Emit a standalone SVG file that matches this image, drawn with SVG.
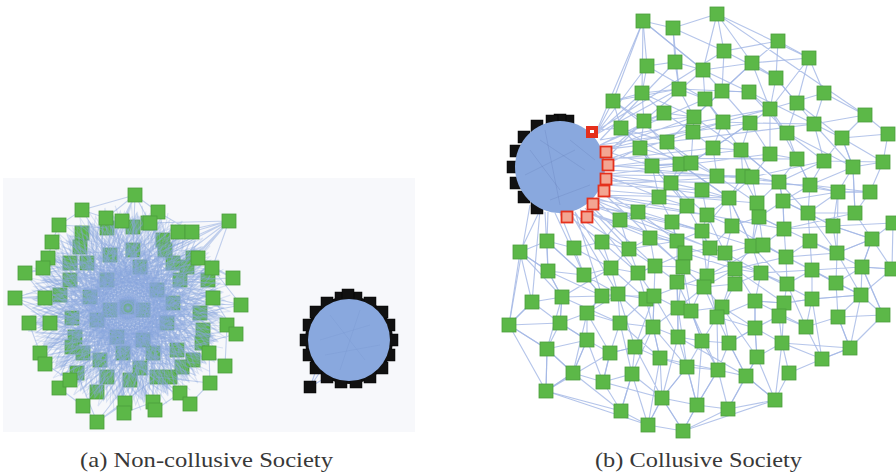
<svg xmlns="http://www.w3.org/2000/svg" xmlns:xlink="http://www.w3.org/1999/xlink" width="896" height="473" viewBox="0 0 896 473">
<style>
.gs{fill:#5cb848;stroke:#4c9f3c;stroke-width:0.8}
.bs{fill:#111;stroke:#000;stroke-width:0.5}
.rs{fill:#f3a592;stroke:#e5301c;stroke-width:1.8}
.ea{fill:none;stroke:#8aa5de;stroke-width:1.1;stroke-opacity:0.27}
.eo{fill:none;stroke:#8aa5de;stroke-width:1.1;stroke-opacity:0.5}
.eb{fill:none;stroke:#a2b7e5;stroke-width:1.15;stroke-opacity:0.8}
.blob{fill:#89a8de}
.cap{font-family:"Liberation Serif","Times New Roman",serif;font-size:22px;fill:#383838}
</style>
<defs>
<rect id="gsq" class="gs" x="-7" y="-7" width="14" height="14"/>
<rect id="bsq" class="bs" x="-6" y="-6" width="12" height="12"/>
<rect id="rsq" class="rs" x="-5.5" y="-5.5" width="11" height="11"/>
<path id="meshA" d="M90,5 L-60,40 L30,-85 L-10,70 L-88,-20 L70,-50 L5,10 L-40,-80 L85,35 L-80,55 L20,-40 L40,88 L-70,-55 L60,60 L-20,-30 L92,-25 L-45,85 L10,-92 L-92,15 L50,-20 L-30,50 L75,-70 L-55,-10 L25,55 L-15,-88 L78,55 L-62,-68 L0,95 L35,-15 L-95,-40"/>
</defs>
<rect x="3" y="178" width="412" height="254" fill="#f7f8fb"/>

<g id="panel-a-inner-nodes">
<use id="ai1" href="#gsq" x="82" y="233"/><use id="ai2" href="#gsq" x="80" y="247"/><use id="ai3" href="#gsq" x="107" y="228"/><use id="ai4" href="#gsq" x="133" y="227"/><use id="ai5" href="#gsq" x="148" y="223"/><use id="ai6" href="#gsq" x="163" y="240"/><use id="ai7" href="#gsq" x="165" y="250"/><use id="ai8" href="#gsq" x="193" y="258"/><use id="ai9" href="#gsq" x="208" y="280"/><use id="ai10" href="#gsq" x="70" y="263"/><use id="ai11" href="#gsq" x="70" y="280"/><use id="ai12" href="#gsq" x="60" y="295"/><use id="ai13" href="#gsq" x="72" y="318"/><use id="ai14" href="#gsq" x="75" y="337"/><use id="ai15" href="#gsq" x="72" y="347"/><use id="ai16" href="#gsq" x="100" y="360"/><use id="ai17" href="#gsq" x="107" y="377"/><use id="ai18" href="#gsq" x="77" y="373"/><use id="ai19" href="#gsq" x="130" y="380"/><use id="ai20" href="#gsq" x="140" y="368"/><use id="ai21" href="#gsq" x="157" y="377"/><use id="ai22" href="#gsq" x="170" y="377"/><use id="ai23" href="#gsq" x="182" y="367"/><use id="ai24" href="#gsq" x="193" y="360"/><use id="ai25" href="#gsq" x="202" y="343"/><use id="ai26" href="#gsq" x="203" y="330"/><use id="ai27" href="#gsq" x="200" y="313"/><use id="ai28" href="#gsq" x="110" y="255"/><use id="ai29" href="#gsq" x="133" y="250"/><use id="ai30" href="#gsq" x="140" y="267"/><use id="ai31" href="#gsq" x="107" y="280"/><use id="ai32" href="#gsq" x="90" y="297"/><use id="ai33" href="#gsq" x="97" y="320"/><use id="ai34" href="#gsq" x="117" y="337"/><use id="ai35" href="#gsq" x="143" y="340"/><use id="ai36" href="#gsq" x="167" y="323"/><use id="ai37" href="#gsq" x="173" y="303"/><use id="ai38" href="#gsq" x="157" y="290"/><use id="ai39" href="#gsq" x="127" y="307"/><use id="ai40" href="#gsq" x="143" y="310"/><use id="ai41" href="#gsq" x="110" y="310"/><use id="ai42" href="#gsq" x="87" y="263"/><use id="ai43" href="#gsq" x="180" y="280"/><use id="ai44" href="#gsq" x="187" y="267"/><use id="ai45" href="#gsq" x="173" y="263"/><use id="ai46" href="#gsq" x="123" y="353"/><use id="ai47" href="#gsq" x="153" y="353"/><use id="ai48" href="#gsq" x="177" y="350"/><use id="ai49" href="#gsq" x="83" y="353"/><use id="ai50" href="#gsq" x="97" y="392"/>
</g>

<g id="connectors">
<g id="edges-a">
<use href="#meshA" class="ea" transform="translate(128,308)"/>
<use href="#meshA" class="ea" transform="translate(128,308) rotate(15)"/>
<use href="#meshA" class="ea" transform="translate(128,308) rotate(30)"/>
<use href="#meshA" class="ea" transform="translate(128,308) rotate(45)"/>
<use href="#meshA" class="ea" transform="translate(128,308) rotate(60)"/>
<use href="#meshA" class="ea" transform="translate(128,308) rotate(75)"/>
<use href="#meshA" class="ea" transform="translate(128,308) rotate(90)"/>
<use href="#meshA" class="ea" transform="translate(128,308) rotate(105)"/>
<use href="#meshA" class="ea" transform="translate(128,308) rotate(120)"/>
<use href="#meshA" class="ea" transform="translate(128,308) rotate(135)"/>
<use href="#meshA" class="ea" transform="translate(128,308) rotate(150)"/>
<use href="#meshA" class="ea" transform="translate(128,308) rotate(165)"/>
<use href="#meshA" class="ea" transform="translate(128,308) rotate(180)"/>
<use href="#meshA" class="ea" transform="translate(128,308) rotate(195)"/>
<use href="#meshA" class="ea" transform="translate(128,308) rotate(210)"/>
<use href="#meshA" class="ea" transform="translate(128,308) rotate(225)"/>
<use href="#meshA" class="ea" transform="translate(128,308) rotate(240)"/>
<use href="#meshA" class="ea" transform="translate(128,308) rotate(255)"/>
<use href="#meshA" class="ea" transform="translate(128,308) rotate(270)"/>
<use href="#meshA" class="ea" transform="translate(128,308) rotate(285)"/>
<use href="#meshA" class="ea" transform="translate(128,308) rotate(300)"/>
<use href="#meshA" class="ea" transform="translate(128,308) rotate(315)"/>
<use href="#meshA" class="ea" transform="translate(128,308) rotate(330)"/>
<use href="#meshA" class="ea" transform="translate(128,308) rotate(345)"/>
<path class="eo" d="M135,195 L158,212 L192,232 L229,221 L198,258 L233,278 L212,268 L241,305 L213,298 L236,334 L227,325 L225,366 L209,353 L210,383 L190,404 L180,393 L155,410 L153,402 L124,413 L125,403 L97,422 L83,406 L59,388 L70,380 L45,364 L40,353 L29,323 L50,323 L15,298 L45,298 L25,273 L43,268 L48,258 L52,242 L59,225 L82,210 L106,218 L135,195 M229,221 L180,232 L229,221 L165,250 M229,221 L193,258 M229,221 L173,263 M229,221 L208,280 M229,221 L140,267 M229,221 L150,223 M229,221 L187,267 M135,195 L106,218 M135,195 L122,221 M135,195 L150,223 M135,195 L82,210 M135,195 L133,250 M135,195 L110,255 M15,298 L70,280 M15,298 L60,295 M15,298 L72,318 M25,273 L87,263 M241,305 L173,303 M241,305 L200,313 M97,422 L130,380 M97,422 L157,377 M97,422 L77,373 M83,406 L107,377 M190,404 L140,368 M210,383 L157,377 M233,278 L180,280 M236,334 L177,350 M59,225 L107,228 M82,210 L110,255"/>
</g>
<g id="edges-a-blob">
<path class="eb" d="M310,387 L320,372 M310,387 L330,375 M310,387 L318,365"/>
</g>
<g id="edges-b">
<path class="eb" d="M643,21 L673,28 L717,14 L724,51 L778,41 L809,58 L824,93 L865,115 L888,134 M643,21 L647,66 L642,93 L613,101 L621,128 L640,148 M673,28 L675,62 L703,70 L752,63 L776,78 L797,103 L814,124 L842,138 L853,167 M647,66 L675,62 L679,89 M703,70 L722,91 L749,92 L770,109 L787,133 L824,161 L883,162 M642,93 L679,89 L705,99 L723,122 L750,123 L770,154 L797,159 L810,185 L838,192 L870,192 M613,101 L644,121 L664,113 L694,117 L693,132 L713,148 L741,150 L752,177 L779,182 L783,201 L808,213 L855,213 M621,128 L667,142 L691,163 L717,176 L743,176 L757,203 L759,217 L784,229 L833,226 L893,223 M640,148 L652,166 L680,164 L671,183 L702,190 L729,198 L707,215 L732,226 M659,197 L687,206 L672,222 L702,231 L710,248 L725,253 L752,246 L763,245 L786,257 L810,241 L837,253 L872,239 M638,212 L620,220 L602,242 L629,249 L650,238 L677,241 L685,253 M520,252 L547,241 L574,248 L602,242 M520,252 L548,271 L584,275 L611,268 L638,273 L655,266 L683,267 L707,276 L735,269 L761,273 L787,284 L812,270 L836,283 L862,267 L892,269 M677,282 L704,287 L735,284 M532,302 L562,297 L602,296 L618,294 L646,299 L654,296 L678,308 L691,311 L722,307 L717,317 L755,301 L784,303 L812,299 L861,295 M509,325 L560,323 L587,313 L620,323 L653,327 L678,337 L702,341 L729,343 L755,328 L779,316 L806,327 L838,317 L883,315 M547,349 L587,340 L610,353 L635,347 L660,358 L687,367 L718,370 L746,376 L757,357 L782,343 L822,359 L850,348 M573,373 L603,382 L632,374 L662,398 L697,405 L728,409 L775,400 L789,373 M546,391 L621,411 L648,425 L683,431 L728,409 M509,325 L546,391 L621,411"/>
<path class="eb" d="M643,21 L642,93 L644,121 L640,148 L652,166 L659,197 L638,212 L620,220 M673,28 L679,89 L694,117 L693,132 L691,163 L671,183 L687,206 L672,222 L677,241 L683,267 L678,308 L678,337 L687,367 L662,398 L648,425 M717,14 L703,70 L705,99 L723,122 L713,148 L717,176 L702,190 L707,215 L702,231 L707,276 L691,311 L702,341 L718,370 L697,405 L683,431 M724,51 L722,91 L750,123 L741,150 L743,176 L729,198 L732,226 L725,253 L735,269 L722,307 L729,343 L746,376 L728,409 M778,41 L776,78 L770,109 L770,154 L752,177 L757,203 L759,217 L752,246 L761,273 L755,301 L755,328 L757,357 L775,400 M809,58 L797,103 L787,133 L797,159 L779,182 L783,201 L784,229 L786,257 L787,284 L784,303 L779,316 L782,343 L789,373 M824,93 L814,124 L824,161 L810,185 L808,213 L810,241 L812,270 L812,299 L806,327 L822,359 M865,115 L842,138 L853,167 L838,192 L833,226 L837,253 L836,283 L861,295 L838,317 L850,348 M888,134 L883,162 L870,192 L855,213 L872,239 L862,267 L883,315 M520,252 L532,302 L509,325 M547,241 L548,271 L562,297 L560,323 L547,349 L546,391 M574,248 L584,275 L602,296 L587,313 L587,340 L573,373 L546,391 M602,242 L611,268 L618,294 L620,323 L610,353 L603,382 L621,411 M629,249 L638,273 L646,299 L653,327 L635,347 L632,374 L648,425 M650,238 L655,266 L654,296 L653,327 L660,358 L662,398 M685,253 L677,282 L678,308"/>
<path class="eb" d="M613,101 L679,89 L749,92 L814,124 L853,167 L855,213 M642,93 L694,117 L741,150 L779,182 L838,192 L837,253 L861,295 M644,121 L680,164 L729,198 L752,246 L787,284 L806,327 M640,148 L671,183 L707,215 L725,253 L735,284 L717,317 L755,328 L782,343 L850,348 M638,212 L650,238 L683,267 L704,287 L722,307 L757,357 M620,220 L629,249 L655,266 L677,282 L691,311 L718,370 L728,409 M547,241 L584,275 L618,294 L653,327 L687,367 L697,405 M520,252 L562,297 L620,323 L660,358 L718,370 M532,302 L560,323 L587,340 L603,382 L662,398 L683,431 M548,271 L602,296 L654,296 L678,337 L746,376 L775,400 M809,58 L770,109 L750,123 L713,148 L691,163 L652,166 M778,41 L752,63 L722,91 L694,117 L667,142 M888,134 L842,138 L824,161 L779,182 L757,203 L752,246 M883,162 L853,167 L810,185 L783,201 L784,229 L763,245 M870,192 L838,192 L808,213 L833,226 L872,239 M893,223 L872,239 L862,267 L861,295 L883,315 M892,269 L861,295 L850,348 L822,359 L789,373 M509,325 L547,349 L573,373 L621,411 M546,391 L610,353 L635,347 L654,296 L707,276 L763,245 L784,229 L855,213 M573,373 L587,313 L618,294 L638,273 L685,253 L710,248 L732,226 L759,217 L783,201 L838,192 M547,349 L562,297 L611,268 L629,249 L677,241 L702,231 L729,198 L752,177 L824,161 L842,138 M621,411 L632,374 L653,327 L678,308 L704,287 L735,269 L786,257 L837,253 L872,239 M648,425 L662,398 L687,367 L702,341 L717,317 L735,284 L761,273 L812,270 L862,267 L892,269 M683,431 L697,405 L718,370 L729,343 L755,328 L755,301 L784,303 L812,299 L861,295 M643,21 L613,101 M717,14 L809,58 M893,223 L892,269 M883,315 L850,348 M546,391 L547,349 M648,425 L546,391 M683,431 L775,400 M717,14 L865,115 M643,21 L703,70 M509,325 L520,252"/>
<path class="eb" d="M643,21 L703,70 L749,92 L787,133 L853,167 L855,213 M647,66 L705,99 L741,150 L779,182 L808,213 L837,253 M613,101 L667,142 L717,176 L757,203 L763,245 L812,270 L861,295 M621,128 L680,164 L729,198 L752,246 L735,269 L755,301 L806,327 M642,93 L664,113 L693,132 L723,122 L770,109 L824,93 M644,121 L694,117 L722,91 L752,63 L809,58 M640,148 L691,163 L713,148 L750,123 L814,124 L865,115 M652,166 L687,206 L710,248 L707,276 L717,317 L718,370 M659,197 L672,222 L683,267 L691,311 L702,341 L697,405 M638,212 L677,241 L677,282 L678,337 L662,398 M602,242 L638,273 L654,296 L653,327 L660,358 L648,425 M574,248 L611,268 L646,299 L620,323 L632,374 L621,411 M547,241 L584,275 L602,296 L587,313 L610,353 L603,382 M520,252 L548,271 L562,297 L560,323 L587,340 L573,373 M532,302 L509,325 L547,349 L573,373 L546,391 M685,253 L735,269 L784,303 L782,343 L775,400 M725,253 L761,273 L812,299 L822,359 M732,226 L786,257 L836,283 L838,317 L850,348 M759,217 L810,241 L862,267 L883,315 M783,201 L833,226 L872,239 L892,269 M722,307 L755,328 L757,357 L728,409 M704,287 L729,343 L746,376 L775,400 M678,308 L687,367 L697,405 M618,294 L635,347 L662,398 L683,431 M673,28 L724,51 L776,78 L797,103 L842,138 L883,162 M717,14 L752,63 L770,109 L797,159 L810,185 L870,192"/>
<path class="eb" d="M595,135 L643,21 M595,135 L647,66 M595,135 L642,93 M595,135 L679,89 M600,145 L664,113 M600,145 L705,99 M602,150 L694,117 M602,150 L723,122 M605,160 L693,132 M605,160 L713,148 M605,167 L741,150 M605,167 L691,163 M603,175 L717,176 M603,175 L770,154 M602,185 L702,190 M602,185 L743,176 M598,195 L729,198 M598,195 L687,206 M595,200 L707,215 M590,205 L672,222 M590,205 L702,231 M580,210 L650,238 M580,210 L677,241 M570,212 L629,249 M565,213 L602,242 M560,213 L574,248 M548,212 L547,241 M540,210 L520,252 M545,212 L548,271 M555,213 L584,275 M575,212 L611,268 M590,205 L655,266 M600,190 L683,267 M605,170 L752,177 M604,158 L797,159 M600,140 L770,109 M598,130 L724,51 M600,145 L750,123 M605,165 L779,182 M600,190 L757,203 M585,208 L638,273 M595,200 L710,248 M570,212 L618,294 M540,210 L532,302 M602,150 L652,166 M602,150 L667,142 M605,175 L671,183 M605,175 L659,197 M600,190 L638,212 M595,200 L620,220 M598,130 L613,101 M598,130 L621,128 M605,160 L644,121 M605,165 L640,148 M600,150 L814,124 M602,180 L810,185 M598,195 L784,229 M590,205 L725,253 M580,210 L761,273 M530,205 L509,325 M600,140 L675,62 M604,155 L703,70 M606,180 L729,198 M596,198 L752,246 M588,206 L629,249 M575,212 L602,296"/>
</g>
</g>

<g id="panel-a-outer-nodes">
<use id="ao1" href="#gsq" x="135" y="195"/><use id="ao2" href="#gsq" x="82" y="210"/><use id="ao3" href="#gsq" x="106" y="218"/><use id="ao4" href="#gsq" x="158" y="212"/><use id="ao5" href="#gsq" x="229" y="221"/><use id="ao6" href="#gsq" x="59" y="225"/><use id="ao7" href="#gsq" x="122" y="221"/><use id="ao8" href="#gsq" x="150" y="223"/><use id="ao9" href="#gsq" x="178" y="232"/><use id="ao10" href="#gsq" x="192" y="232"/><use id="ao11" href="#gsq" x="52" y="242"/><use id="ao12" href="#gsq" x="48" y="258"/><use id="ao13" href="#gsq" x="198" y="258"/><use id="ao14" href="#gsq" x="25" y="273"/><use id="ao15" href="#gsq" x="43" y="268"/><use id="ao16" href="#gsq" x="212" y="268"/><use id="ao17" href="#gsq" x="233" y="278"/><use id="ao18" href="#gsq" x="15" y="298"/><use id="ao19" href="#gsq" x="45" y="298"/><use id="ao20" href="#gsq" x="213" y="298"/><use id="ao21" href="#gsq" x="241" y="305"/><use id="ao22" href="#gsq" x="29" y="323"/><use id="ao23" href="#gsq" x="50" y="323"/><use id="ao24" href="#gsq" x="227" y="325"/><use id="ao25" href="#gsq" x="236" y="334"/><use id="ao26" href="#gsq" x="40" y="353"/><use id="ao27" href="#gsq" x="45" y="364"/><use id="ao28" href="#gsq" x="209" y="353"/><use id="ao29" href="#gsq" x="225" y="366"/><use id="ao30" href="#gsq" x="59" y="388"/><use id="ao31" href="#gsq" x="70" y="380"/><use id="ao32" href="#gsq" x="210" y="383"/><use id="ao33" href="#gsq" x="83" y="406"/><use id="ao34" href="#gsq" x="97" y="422"/><use id="ao35" href="#gsq" x="125" y="403"/><use id="ao36" href="#gsq" x="124" y="413"/><use id="ao37" href="#gsq" x="153" y="402"/><use id="ao38" href="#gsq" x="155" y="410"/><use id="ao39" href="#gsq" x="180" y="393"/><use id="ao40" href="#gsq" x="190" y="404"/>
</g>

<g id="panel-b-nodes">
<use id="b1" href="#gsq" x="643" y="21"/><use id="b2" href="#gsq" x="717" y="14"/><use id="b3" href="#gsq" x="673" y="28"/><use id="b4" href="#gsq" x="778" y="41"/><use id="b5" href="#gsq" x="724" y="51"/><use id="b6" href="#gsq" x="809" y="58"/><use id="b7" href="#gsq" x="647" y="66"/><use id="b8" href="#gsq" x="675" y="62"/><use id="b9" href="#gsq" x="703" y="70"/><use id="b10" href="#gsq" x="752" y="63"/><use id="b11" href="#gsq" x="776" y="78"/><use id="b12" href="#gsq" x="642" y="93"/><use id="b13" href="#gsq" x="679" y="89"/><use id="b14" href="#gsq" x="722" y="91"/><use id="b15" href="#gsq" x="749" y="92"/><use id="b16" href="#gsq" x="705" y="99"/><use id="b17" href="#gsq" x="824" y="93"/><use id="b18" href="#gsq" x="613" y="101"/><use id="b19" href="#gsq" x="797" y="103"/><use id="b20" href="#gsq" x="770" y="109"/><use id="b21" href="#gsq" x="664" y="113"/><use id="b22" href="#gsq" x="694" y="117"/><use id="b23" href="#gsq" x="644" y="121"/><use id="b24" href="#gsq" x="723" y="122"/><use id="b25" href="#gsq" x="750" y="123"/><use id="b26" href="#gsq" x="865" y="115"/><use id="b27" href="#gsq" x="814" y="124"/><use id="b28" href="#gsq" x="621" y="128"/><use id="b29" href="#gsq" x="693" y="132"/><use id="b30" href="#gsq" x="787" y="133"/><use id="b31" href="#gsq" x="888" y="134"/><use id="b32" href="#gsq" x="842" y="138"/><use id="b33" href="#gsq" x="667" y="142"/><use id="b34" href="#gsq" x="640" y="148"/><use id="b35" href="#gsq" x="713" y="148"/><use id="b36" href="#gsq" x="741" y="150"/><use id="b37" href="#gsq" x="770" y="154"/><use id="b38" href="#gsq" x="797" y="159"/><use id="b39" href="#gsq" x="824" y="161"/><use id="b40" href="#gsq" x="853" y="167"/><use id="b41" href="#gsq" x="883" y="162"/><use id="b42" href="#gsq" x="652" y="166"/><use id="b43" href="#gsq" x="680" y="164"/><use id="b44" href="#gsq" x="691" y="163"/><use id="b45" href="#gsq" x="717" y="176"/><use id="b46" href="#gsq" x="743" y="176"/><use id="b47" href="#gsq" x="752" y="177"/><use id="b48" href="#gsq" x="779" y="182"/><use id="b49" href="#gsq" x="810" y="185"/><use id="b50" href="#gsq" x="671" y="183"/><use id="b51" href="#gsq" x="702" y="190"/><use id="b52" href="#gsq" x="729" y="198"/><use id="b53" href="#gsq" x="757" y="203"/><use id="b54" href="#gsq" x="783" y="201"/><use id="b55" href="#gsq" x="838" y="192"/><use id="b56" href="#gsq" x="870" y="192"/><use id="b57" href="#gsq" x="659" y="197"/><use id="b58" href="#gsq" x="687" y="206"/><use id="b59" href="#gsq" x="638" y="212"/><use id="b60" href="#gsq" x="707" y="215"/><use id="b61" href="#gsq" x="808" y="213"/><use id="b62" href="#gsq" x="855" y="213"/><use id="b63" href="#gsq" x="620" y="220"/><use id="b64" href="#gsq" x="759" y="217"/><use id="b65" href="#gsq" x="672" y="222"/><use id="b66" href="#gsq" x="732" y="226"/><use id="b67" href="#gsq" x="784" y="229"/><use id="b68" href="#gsq" x="833" y="226"/><use id="b69" href="#gsq" x="893" y="223"/><use id="b70" href="#gsq" x="520" y="252"/><use id="b71" href="#gsq" x="547" y="241"/><use id="b72" href="#gsq" x="574" y="248"/><use id="b73" href="#gsq" x="602" y="242"/><use id="b74" href="#gsq" x="629" y="249"/><use id="b75" href="#gsq" x="650" y="238"/><use id="b76" href="#gsq" x="677" y="241"/><use id="b77" href="#gsq" x="685" y="253"/><use id="b78" href="#gsq" x="702" y="231"/><use id="b79" href="#gsq" x="710" y="248"/><use id="b80" href="#gsq" x="725" y="253"/><use id="b81" href="#gsq" x="752" y="246"/><use id="b82" href="#gsq" x="763" y="245"/><use id="b83" href="#gsq" x="786" y="257"/><use id="b84" href="#gsq" x="810" y="241"/><use id="b85" href="#gsq" x="837" y="253"/><use id="b86" href="#gsq" x="872" y="239"/><use id="b87" href="#gsq" x="548" y="271"/><use id="b88" href="#gsq" x="584" y="275"/><use id="b89" href="#gsq" x="611" y="268"/><use id="b90" href="#gsq" x="638" y="273"/><use id="b91" href="#gsq" x="655" y="266"/><use id="b92" href="#gsq" x="683" y="267"/><use id="b93" href="#gsq" x="707" y="276"/><use id="b94" href="#gsq" x="735" y="269"/><use id="b95" href="#gsq" x="761" y="273"/><use id="b96" href="#gsq" x="787" y="284"/><use id="b97" href="#gsq" x="812" y="270"/><use id="b98" href="#gsq" x="836" y="283"/><use id="b99" href="#gsq" x="862" y="267"/><use id="b100" href="#gsq" x="892" y="269"/><use id="b101" href="#gsq" x="677" y="282"/><use id="b102" href="#gsq" x="704" y="287"/><use id="b103" href="#gsq" x="735" y="284"/><use id="b104" href="#gsq" x="532" y="302"/><use id="b105" href="#gsq" x="562" y="297"/><use id="b106" href="#gsq" x="602" y="296"/><use id="b107" href="#gsq" x="618" y="294"/><use id="b108" href="#gsq" x="646" y="299"/><use id="b109" href="#gsq" x="654" y="296"/><use id="b110" href="#gsq" x="678" y="308"/><use id="b111" href="#gsq" x="691" y="311"/><use id="b112" href="#gsq" x="722" y="307"/><use id="b113" href="#gsq" x="717" y="317"/><use id="b114" href="#gsq" x="755" y="301"/><use id="b115" href="#gsq" x="784" y="303"/><use id="b116" href="#gsq" x="812" y="299"/><use id="b117" href="#gsq" x="861" y="295"/><use id="b118" href="#gsq" x="509" y="325"/><use id="b119" href="#gsq" x="560" y="323"/><use id="b120" href="#gsq" x="587" y="313"/><use id="b121" href="#gsq" x="620" y="323"/><use id="b122" href="#gsq" x="653" y="327"/><use id="b123" href="#gsq" x="678" y="337"/><use id="b124" href="#gsq" x="702" y="341"/><use id="b125" href="#gsq" x="729" y="343"/><use id="b126" href="#gsq" x="755" y="328"/><use id="b127" href="#gsq" x="779" y="316"/><use id="b128" href="#gsq" x="806" y="327"/><use id="b129" href="#gsq" x="838" y="317"/><use id="b130" href="#gsq" x="883" y="315"/><use id="b131" href="#gsq" x="547" y="349"/><use id="b132" href="#gsq" x="587" y="340"/><use id="b133" href="#gsq" x="610" y="353"/><use id="b134" href="#gsq" x="635" y="347"/><use id="b135" href="#gsq" x="660" y="358"/><use id="b136" href="#gsq" x="687" y="367"/><use id="b137" href="#gsq" x="718" y="370"/><use id="b138" href="#gsq" x="746" y="376"/><use id="b139" href="#gsq" x="757" y="357"/><use id="b140" href="#gsq" x="782" y="343"/><use id="b141" href="#gsq" x="822" y="359"/><use id="b142" href="#gsq" x="850" y="348"/><use id="b143" href="#gsq" x="573" y="373"/><use id="b144" href="#gsq" x="603" y="382"/><use id="b145" href="#gsq" x="632" y="374"/><use id="b146" href="#gsq" x="789" y="373"/><use id="b147" href="#gsq" x="546" y="391"/><use id="b148" href="#gsq" x="662" y="398"/><use id="b149" href="#gsq" x="697" y="405"/><use id="b150" href="#gsq" x="728" y="409"/><use id="b151" href="#gsq" x="775" y="400"/><use id="b152" href="#gsq" x="621" y="411"/><use id="b153" href="#gsq" x="648" y="425"/><use id="b154" href="#gsq" x="683" y="431"/>
</g>

<g id="blob-a">
<circle cx="349" cy="340" r="44" fill="#111"/>
<use href="#bsq" x="392" y="340"/><use href="#bsq" x="389" y="355"/><use href="#bsq" x="382" y="368"/><use href="#bsq" x="370" y="377"/><use href="#bsq" x="356" y="382"/><use href="#bsq" x="341" y="382"/><use href="#bsq" x="327" y="377"/><use href="#bsq" x="316" y="368"/><use href="#bsq" x="309" y="355"/><use href="#bsq" x="306" y="340"/><use href="#bsq" x="309" y="325"/><use href="#bsq" x="316" y="312"/><use href="#bsq" x="327" y="303"/><use href="#bsq" x="341" y="298"/><use href="#bsq" x="356" y="298"/><use href="#bsq" x="370" y="303"/><use href="#bsq" x="382" y="312"/><use href="#bsq" x="389" y="325"/><use href="#bsq" x="348" y="295"/><use href="#bsq" x="310" y="387"/>
<circle class="blob" cx="349" cy="340" r="41"/>
<path d="M330,315 L365,360 M320,340 L370,325 M340,370 L360,310 M325,355 L380,345" stroke="#6d8bc6" stroke-width="1" opacity="0.2" fill="none"/>
</g>

<g id="blob-b">
<use href="#bsq" x="568" y="121"/><use href="#bsq" x="560" y="120"/><use href="#bsq" x="552" y="121"/><use href="#bsq" x="537" y="126"/><use href="#bsq" x="524" y="137"/><use href="#bsq" x="516" y="151"/><use href="#bsq" x="513" y="167"/><use href="#bsq" x="516" y="183"/><use href="#bsq" x="524" y="197"/><use href="#bsq" x="537" y="208"/>
<ellipse class="blob" cx="560" cy="167" rx="45" ry="46"/>
<path d="M530,150 L560,190 M540,140 L585,170 M525,175 L575,150 M550,200 L590,185 M545,130 L560,205 M570,140 L595,160" stroke="#4d64a0" stroke-width="1" opacity="0.18" fill="none"/>
<rect x="586" y="126" width="12" height="12" fill="#e5301c"/><rect x="590" y="130" width="4" height="3" fill="#fff"/>
<use href="#rsq" x="606" y="152"/><use href="#rsq" x="608" y="165"/><use href="#rsq" x="606" y="179"/><use href="#rsq" x="604" y="191"/><use href="#rsq" x="593" y="204"/><use href="#rsq" x="587" y="217"/><use href="#rsq" x="567" y="217"/>
</g>

<g id="captions">
<text class="cap" x="80" y="467" textLength="253" lengthAdjust="spacingAndGlyphs">(a) Non-collusive Society</text>
<text class="cap" x="595" y="467" textLength="207" lengthAdjust="spacingAndGlyphs">(b) Collusive Society</text>
</g>
</svg>
